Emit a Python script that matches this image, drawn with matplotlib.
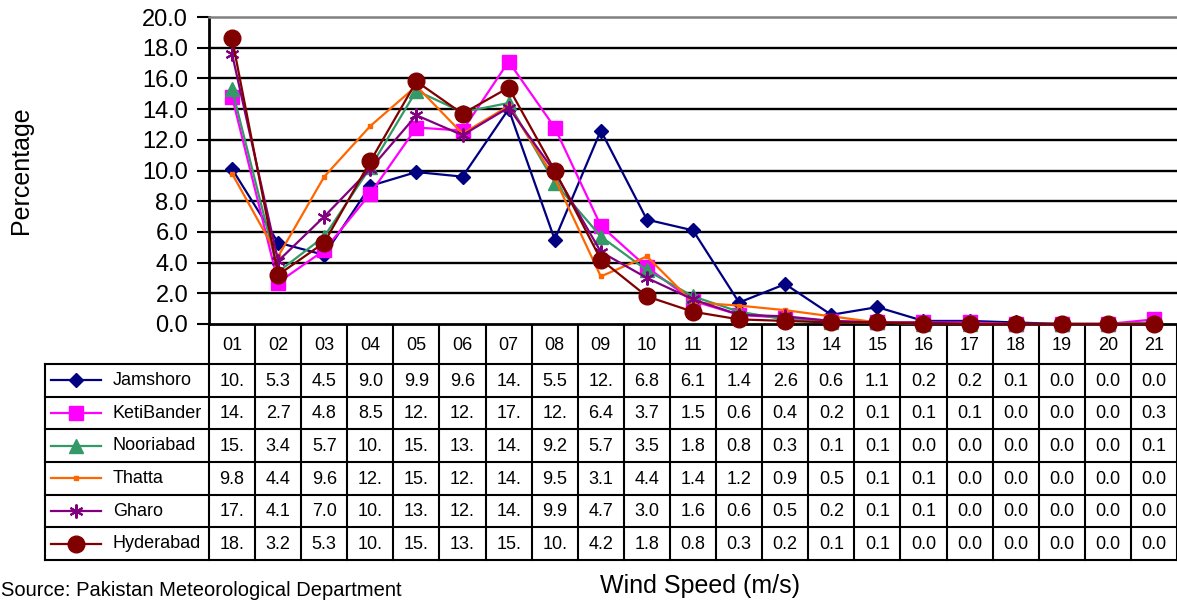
import matplotlib
matplotlib.use("Agg")
import matplotlib.pyplot as plt
from matplotlib import transforms
from matplotlib.lines import Line2D

plt.rcParams['font.family'] = ['Liberation Sans', 'DejaVu Sans']

categories = ["01", "02", "03", "04", "05", "06", "07", "08", "09", "10", "11",
              "12", "13", "14", "15", "16", "17", "18", "19", "20", "21"]

jamshoro = [10.1, 5.3, 4.5, 9.0, 9.9, 9.6, 14.0, 5.5, 12.6, 6.8, 6.1,
            1.4, 2.6, 0.6, 1.1, 0.2, 0.2, 0.1, 0.0, 0.0, 0.0]
ketibander = [14.8, 2.7, 4.8, 8.5, 12.8, 12.6, 17.1, 12.8, 6.4, 3.7, 1.5,
              0.6, 0.4, 0.2, 0.1, 0.1, 0.1, 0.0, 0.0, 0.0, 0.3]
nooriabad = [15.3, 3.4, 5.7, 10.2, 15.2, 13.8, 14.4, 9.2, 5.7, 3.5, 1.8,
             0.8, 0.3, 0.1, 0.1, 0.0, 0.0, 0.0, 0.0, 0.0, 0.1]
thatta = [9.8, 4.4, 9.6, 12.9, 15.5, 12.4, 14.2, 9.5, 3.1, 4.4, 1.4,
          1.2, 0.9, 0.5, 0.1, 0.1, 0.0, 0.0, 0.0, 0.0, 0.0]
gharo = [17.6, 4.1, 7.0, 10.1, 13.6, 12.3, 14.1, 9.9, 4.7, 3.0, 1.6,
         0.6, 0.5, 0.2, 0.1, 0.1, 0.0, 0.0, 0.0, 0.0, 0.0]
hyderabad = [18.6, 3.2, 5.3, 10.6, 15.8, 13.7, 15.4, 10.0, 4.2, 1.8, 0.8,
             0.3, 0.2, 0.1, 0.1, 0.0, 0.0, 0.0, 0.0, 0.0, 0.0]

series_names = ["Jamshoro", "KetiBander", "Nooriabad", "Thatta", "Gharo", "Hyderabad"]
series_values = [jamshoro, ketibander, nooriabad, thatta, gharo, hyderabad]
colors = ["#000080", "#FF00FF", "#339966", "#FF6600", "#800080", "#800000"]
markers = ["D", "s", "^", "s", (6, 2, 0), "o"]
msizes = [7, 10, 10, 3.5, 10, 12]
medge = [1, 1, 1, 1, 1.5, 1]

W, H = 1177, 602
fig = plt.figure(figsize=(W / 100, H / 100), dpi=100)

# plot area
ax_w = 1177 - 209
ax = fig.add_axes([209 / W, 1 - 324 / H, ax_w / W, (324 - 17) / H])
x = list(range(len(categories)))
for name, vals, c, m, ms, me in zip(series_names, series_values, colors, markers, msizes, medge):
    ax.plot(x, vals, color=c, lw=1.6, marker=m, markersize=ms,
            markerfacecolor=c, markeredgecolor=c, markeredgewidth=me, clip_on=False, zorder=3)

ax.set_xlim(-0.5, 20.5)
ax.set_ylim(0, 20)
yt = [0, 2, 4, 6, 8, 10, 12, 14, 16, 18, 20]
ax.set_yticks(yt)
ax.set_yticklabels([f"{v:.1f}" for v in yt], fontsize=17)
ax.set_xticks([])
for v in yt[1:-1]:
    ax.axhline(v, color="black", lw=1.7, zorder=1)
ax.tick_params(axis="y", direction="out", length=9, width=1.5, pad=6)
ax.spines["right"].set_visible(False)
ax.spines["top"].set_color("#808080")
ax.spines["top"].set_linewidth(1.8)
ax.spines["left"].set_linewidth(2)
ax.spines["bottom"].set_linewidth(2)
ax.set_ylabel("Percentage", fontsize=18)
ax.yaxis.set_label_coords((33 - 209) / ax_w, 0.5)

# table in pixel coordinates, columns aligned with the plot's x scale
axp = fig.add_axes([0, 0, 1, 1], zorder=-1)
axp.set_xlim(0, W)
axp.set_ylim(H, 0)
axp.axis("off")
tr = transforms.blended_transform_factory(ax.transData, axp.transData)

top, head_bot, bottom = 324, 364, 560
nrows = len(series_names)
rh = (bottom - head_bot) / nrows
label_left = 45

for i in range(len(categories) + 1):
    axp.plot([i - 0.5, i - 0.5], [top, bottom], color="black", lw=1.5,
             transform=tr, clip_on=False)
axp.plot([label_left, label_left], [head_bot, bottom], color="black", lw=1.5)
for r in range(nrows + 1):
    yy = head_bot + r * rh
    axp.plot([label_left, W], [yy, yy], color="black", lw=1.5)

for i, c in enumerate(categories):
    axp.text(i, (top + head_bot) / 2 + 2, c, transform=tr, ha="center", va="center", fontsize=13)

for r, (name, vals, c, m, ms, me) in enumerate(zip(series_names, series_values, colors, markers, msizes, medge)):
    yc = head_bot + (r + 0.5) * rh
    axp.add_line(Line2D([51, 101], [yc, yc], color=c, lw=1.6))
    axp.add_line(Line2D([76], [yc], marker=m, markersize=ms, color=c,
                        markerfacecolor=c, markeredgecolor=c, markeredgewidth=me))
    axp.text(113, yc, name, ha="left", va="center", fontsize=13)
    for i, v in enumerate(vals):
        axp.text(i, yc + 1, f"{v:.1f}"[:3], transform=tr, ha="center", va="center", fontsize=13)

fig.text(700 / W, 1 - 586 / H, "Wind Speed (m/s)", ha="center", va="center", fontsize=18)
fig.text(1 / W, 1 - 590 / H, "Source: Pakistan Meteorological Department",
         ha="left", va="center", fontsize=14.5)

fig.savefig("out.png", dpi=100)
